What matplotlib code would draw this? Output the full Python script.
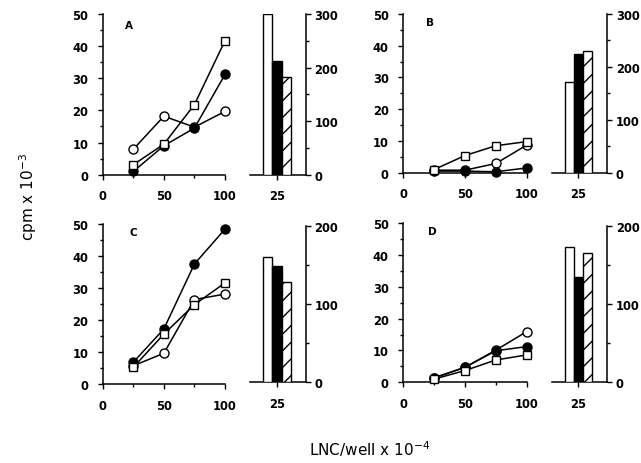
import matplotlib
matplotlib.use("Agg")
import matplotlib.pyplot as plt
from matplotlib.ticker import MultipleLocator

# ---------------- data ----------------
lnc = [25, 50, 75, 100]

A_open = [7.9, 18.2, 14.8, 19.7]
A_filled = [1.0, 9.0, 14.5, 31.2]
A_square = [3.1, 9.5, 21.8, 41.7]

B_open = [0.8, 0.8, 2.9, 8.7]
B_filled = [0.5, 0.5, 0.3, 1.5]
B_square = [1.0, 5.4, 8.5, 9.8]

C_open = [5.7, 9.6, 26.4, 28.1]
C_filled = [6.8, 17.2, 37.5, 48.4]
C_square = [5.2, 15.6, 24.8, 31.6]

D_open = [1.4, 4.7, 10.1, 15.9]
D_filled = [1.4, 4.7, 9.9, 11.2]
D_square = [1.0, 3.7, 7.0, 8.6]

bar_x = 25
A_bars = [300, 212, 183]
B_bars = [171, 224, 230]
C_bars = [160, 148, 128.5]
D_bars = [173, 135, 165]

panel_labels = ["A", "B", "C", "D"]
xlabel = "LNC/well x 10$^{-4}$"
ylabel = "cpm x 10$^{-3}$"

# ---------------- layout ----------------
W, H = 641, 464
plt.rcParams['hatch.linewidth'] = 1.0
fig = plt.figure(figsize=(W / 100, H / 100), dpi=100)


def rect(l, r, t, b):
    return [l / W, 1 - b / H, (r - l) / W, (b - t) / H]


tick_font = dict(family="DejaVu Sans", weight="bold", size=8.3)


def line_panel(r, opn, fil, sq, letter, lpos):
    ax = fig.add_axes(rect(*r))
    ax.plot(lnc, opn, color="black", lw=1.1, marker="o", ms=6.5, mfc="white",
            mec="black", mew=1.0, clip_on=False, zorder=3)
    ax.plot(lnc, fil, color="black", lw=1.1, marker="o", ms=6.5, mfc="black",
            mec="black", mew=1.0, clip_on=False, zorder=4)
    ax.plot(lnc, sq, color="black", lw=1.1, marker="s", ms=6, mfc="white",
            mec="black", mew=1.0, clip_on=False, zorder=5)
    ax.set_xlim(0, 100)
    ax.set_ylim(0, 50)
    ax.spines[["top", "right"]].set_visible(False)
    for s in ("left", "bottom"):
        ax.spines[s].set_linewidth(1.1)
    ax.set_xticks([0, 50, 100])
    ax.xaxis.set_minor_locator(MultipleLocator(25))
    ax.set_yticks([0, 10, 20, 30, 40, 50])
    ax.yaxis.set_minor_locator(MultipleLocator(5))
    ax.tick_params(which="major", direction="out", length=3.5, width=1.0)
    ax.tick_params(which="minor", direction="out", length=2, width=1.0)
    ax.tick_params(axis="x", which="major", pad=7)
    ax.tick_params(axis="y", which="major", pad=7)
    for lab in ax.get_xticklabels() + ax.get_yticklabels():
        lab.set_fontproperties(tick_font)
    fig.text(lpos[0] / W, 1 - lpos[1] / H, letter, ha="center", va="center",
             fontsize=7.5, weight="bold", family="DejaVu Sans")
    return ax


def bar_panel(r, vals, ymax, yticks):
    ax = fig.add_axes(rect(*r))
    kw = dict(width=1.0, edgecolor="black", linewidth=1.0, zorder=3)
    ax.bar(bar_x - 1, vals[0], color="white", **kw)
    ax.bar(bar_x, vals[1], color="black", **kw)
    ax.bar(bar_x + 1, vals[2], color="white", hatch="//", **kw)
    ax.set_xlim(22.1, 28.07)
    ax.set_ylim(0, ymax)
    ax.spines[["top", "left"]].set_visible(False)
    for s in ("right", "bottom"):
        ax.spines[s].set_linewidth(1.1)
    ax.yaxis.tick_right()
    ax.set_yticks(yticks)
    ax.yaxis.set_minor_locator(MultipleLocator(50))
    ax.set_xticks([bar_x])
    ax.tick_params(which="major", direction="out", length=3.5, width=1.0)
    ax.tick_params(which="minor", direction="out", length=2, width=1.0)
    ax.tick_params(axis="x", pad=7)
    ax.tick_params(axis="y", pad=3)
    for lab in ax.get_xticklabels() + ax.get_yticklabels():
        lab.set_fontproperties(tick_font)
    return ax


line_panel((102.7, 225, 15, 175.7), A_open, A_filled, A_square, panel_labels[0], (129, 26))
bar_panel((250, 305.5, 15, 175.7), A_bars, 300, [0, 100, 200, 300])

line_panel((403.3, 526.7, 15, 173.7), B_open, B_filled, B_square, panel_labels[1], (430, 23))
bar_panel((551.7, 606.7, 15, 173.7), B_bars, 300, [0, 100, 200, 300])

line_panel((102.7, 225, 225, 385), C_open, C_filled, C_square, panel_labels[2], (133, 233))
bar_panel((250, 305.5, 226.7, 383.3), C_bars, 200, [0, 100, 200])

line_panel((403.3, 526.7, 224, 383.3), D_open, D_filled, D_square, panel_labels[3], (432, 232))
bar_panel((551.7, 606.7, 226.7, 383.3), D_bars, 200, [0, 100, 200])

fig.text(370 / W, 1 - 449 / H, xlabel, ha="center", va="center",
         fontsize=11, family="DejaVu Sans")
fig.text(28 / W, 1 - 197 / H, ylabel, ha="center", va="center",
         rotation=90, fontsize=11, family="DejaVu Sans")

fig.savefig("out.png", dpi=100)
